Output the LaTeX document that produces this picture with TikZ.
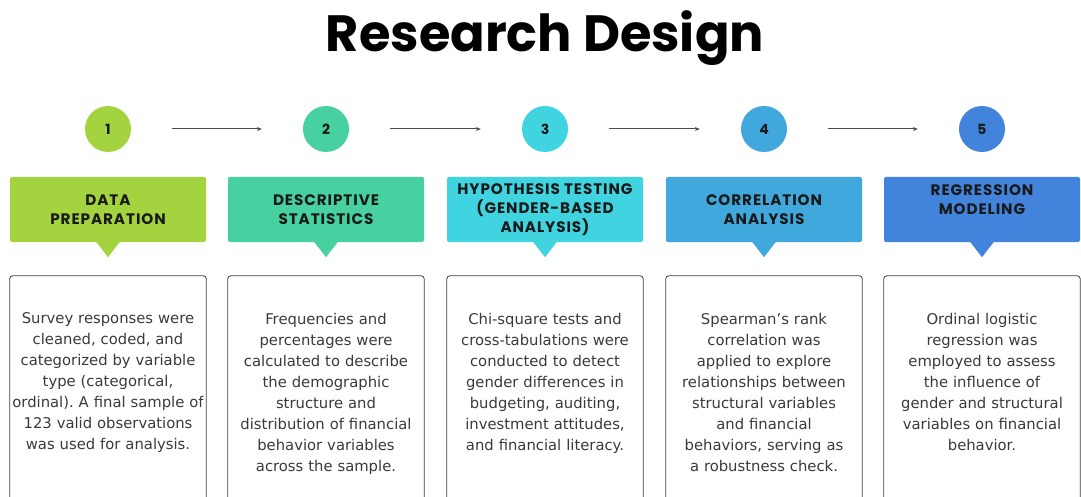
\documentclass[tikz,border=0pt]{standalone}
\usepackage{fontspec}
\setmainfont{DejaVu Sans}
\newfontfamily\titlefont{Poppins}
\newfontfamily\headfont[LetterSpace=6]{Poppins}
\usetikzlibrary{arrows.meta}
\usetikzlibrary{calc}
\definecolor{stepA}{HTML}{A3D43F}
\definecolor{stepB}{HTML}{47D1A0}
\definecolor{stepC}{HTML}{40D4E0}
\definecolor{stepD}{HTML}{41A8DE}
\definecolor{stepE}{HTML}{4283DC}
\definecolor{bodygray}{HTML}{3A3A3A}
\frenchspacing

\begin{document}
\begin{tikzpicture}[x=1pt, y=-1pt,
    stepdot/.style={circle, inner sep=0pt, minimum size=46pt, font=\titlefont\bfseries\fontsize{14}{16}\selectfont, text=black!90},
    headbox/.style={rectangle, rounded corners=2pt, inner sep=0pt, minimum width=196pt, minimum height=65pt},
    headtext/.style={align=center, font=\headfont\bfseries\fontsize{15.2}{19}\selectfont, text=black!90},
    framebox/.style={rectangle, inner sep=0pt, minimum width=196pt, minimum height=221pt},
    frameline/.style={draw=black!75, line width=0.8pt, rounded corners=3pt},
    bodytext/.style={anchor=north, align=center, text width=200pt, inner sep=0pt, font=\fontsize{14.8}{21}\selectfont, text=bodygray},
    flowarrow/.style={draw=black!70, line width=1pt, -{Stealth[length=5pt, width=4pt]}, shorten <=41pt, shorten >=41pt}]
    \useasboundingbox (0,0) rectangle (1081,497);

    \node[font=\titlefont\bfseries\fontsize{51}{55}\selectfont] (title) at (545,38) {Research Design};

    \node[stepdot, fill=stepA] (c1) at (108,129) {1};
    \node[stepdot, fill=stepB] (c2) at (326,129) {2};
    \node[stepdot, fill=stepC] (c3) at (545,129) {3};
    \node[stepdot, fill=stepD] (c4) at (764,129) {4};
    \node[stepdot, fill=stepE] (c5) at (982,129) {5};

    \draw[flowarrow] (c1) -- (c2);
    \draw[flowarrow] (c2) -- (c3);
    \draw[flowarrow] (c3) -- (c4);
    \draw[flowarrow] (c4) -- (c5);

    \node[headbox, fill=stepA, label={[headtext]center:DATA\\PREPARATION}] (h1) at (108,209.5) {};
    \node[headbox, fill=stepB, label={[headtext]center:DESCRIPTIVE\\STATISTICS}] (h2) at (326,209.5) {};
    \node[headbox, fill=stepC, label={[headtext]center:HYPOTHESIS TESTING\\(GENDER-BASED\\ANALYSIS)}] (h3) at (545,209.5) {};
    \node[headbox, fill=stepD, label={[headtext]center:CORRELATION\\ANALYSIS}] (h4) at (764,209.5) {};
    \node[headbox, fill=stepE, label={[headtext, yshift=10pt]center:REGRESSION\\MODELING}] (h5) at (982,209.5) {};

    \fill[stepA] ($(h1.south)+(-12,-0.5)$) -- ($(h1.south)+(0,15)$) -- ($(h1.south)+(12,-0.5)$) -- cycle;
    \fill[stepB] ($(h2.south)+(-12,-0.5)$) -- ($(h2.south)+(0,15)$) -- ($(h2.south)+(12,-0.5)$) -- cycle;
    \fill[stepC] ($(h3.south)+(-12,-0.5)$) -- ($(h3.south)+(0,15)$) -- ($(h3.south)+(12,-0.5)$) -- cycle;
    \fill[stepD] ($(h4.south)+(-12,-0.5)$) -- ($(h4.south)+(0,15)$) -- ($(h4.south)+(12,-0.5)$) -- cycle;
    \fill[stepE] ($(h5.south)+(-12,-0.5)$) -- ($(h5.south)+(0,15)$) -- ($(h5.south)+(12,-0.5)$) -- cycle;

    % text panels, open at the bottom edge
    \node[framebox] (t1) at (108,386.5) {};
    \node[framebox] (t2) at (326,386.5) {};
    \node[framebox] (t3) at (545,386.5) {};
    \node[framebox] (t4) at (764,386.5) {};
    \node[framebox] (t5) at (982,386.5) {};
    \draw[frameline] (t1.south west) -- (t1.north west) -- (t1.north east) -- (t1.south east);
    \draw[frameline] (t2.south west) -- (t2.north west) -- (t2.north east) -- (t2.south east);
    \draw[frameline] (t3.south west) -- (t3.north west) -- (t3.north east) -- (t3.south east);
    \draw[frameline] (t4.south west) -- (t4.north west) -- (t4.north east) -- (t4.south east);
    \draw[frameline] (t5.south west) -- (t5.north west) -- (t5.north east) -- (t5.south east);

    \node[bodytext] (b1) at ($(t1.north)+(0,37)$) {Survey responses were\\cleaned, coded, and\\categorized by variable\\type (categorical,\\ordinal). A final sample of\\123 valid observations\\was used for analysis.};
    \node[bodytext] (b2) at ($(t2.north)+(0,37)$) {Frequencies and\\percentages were\\calculated to describe\\the demographic\\structure and\\distribution of financial\\behavior variables\\across the sample.};
    \node[bodytext] (b3) at ($(t3.north)+(0,37)$) {Chi-square tests and\\cross-tabulations were\\conducted to detect\\gender differences in\\budgeting, auditing,\\investment attitudes,\\and financial literacy.};
    \node[bodytext] (b4) at ($(t4.north)+(0,37)$) {Spearman’s rank\\correlation was\\applied to explore\\relationships between\\structural variables\\and financial\\behaviors, serving as\\a robustness check.};
    \node[bodytext] (b5) at ($(t5.north)+(0,37)$) {Ordinal logistic\\regression was\\employed to assess\\the influence of\\gender and structural\\variables on financial\\behavior.};
\end{tikzpicture}
\end{document}
